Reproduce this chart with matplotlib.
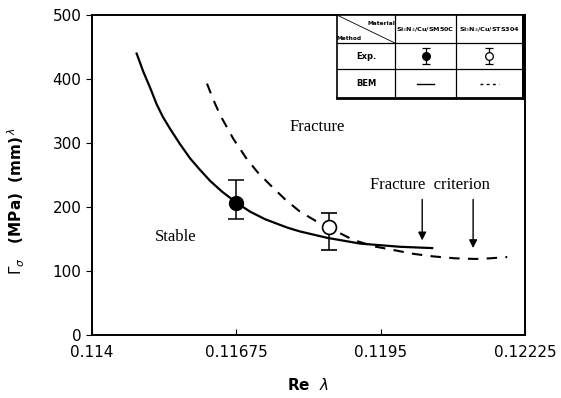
import matplotlib.pyplot as plt
import numpy as np

# BEM curves, Si3N4/Cu/SM50C (solid) and Si3N4/Cu/STS304 (dashed)
sm50c_x = [0.11485, 0.11498, 0.11511, 0.11523, 0.11535, 0.11549, 0.11568,
           0.11587, 0.11606, 0.11625, 0.11648, 0.11675, 0.11701, 0.11730,
           0.11772, 0.11796, 0.11848, 0.11911, 0.11987, 0.12048]
sm50c_y = [440, 411, 386, 361, 341, 322, 298, 276, 258, 241, 224, 207,
           193, 181, 168, 162, 152, 143, 138, 136]

sts304_x = [0.11619, 0.11631, 0.11644, 0.11669, 0.11695, 0.11716, 0.11739,
            0.11768, 0.11796, 0.11825, 0.11852, 0.11873, 0.11897, 0.11935,
            0.11974, 0.12012, 0.12050, 0.12092, 0.12130, 0.12158, 0.12191]
sts304_y = [393, 368, 344, 307, 275, 254, 235, 212, 193, 179, 168, 159,
            149, 139, 133, 127, 123, 120, 119, 120, 122]

# experiments
exp_x = [0.11675, 0.11852]
exp_y = [207, 169]
exp_lo = [25, 36]
exp_hi = [35, 22]

# fracture criterion
crit_x = [0.12029, 0.12126]
crit_y = [148, 136]

xticks = [0.114, 0.11675, 0.1195, 0.12225]
xticklabels = ['0.114', '0.11675', '0.1195', '0.12225']
yticks = [0, 100, 200, 300, 400, 500]

fig = plt.figure(figsize=(5.61, 3.98), dpi=100)
ax = fig.add_axes([0.164, 0.158, 0.772, 0.804])

ax.plot(sm50c_x, sm50c_y, color='black', lw=1.6)
ax.plot(sts304_x, sts304_y, color='black', lw=1.5, ls=(0, (5, 4)))

ax.errorbar(exp_x[0], exp_y[0], yerr=[[exp_lo[0]], [exp_hi[0]]], fmt='o',
            color='black', ms=10, mfc='black', capsize=6, elinewidth=1.1, capthick=1.1)
ax.errorbar(exp_x[1], exp_y[1], yerr=[[exp_lo[1]], [exp_hi[1]]], fmt='o',
            color='black', ms=10, mfc='white', mew=1.2, capsize=6, elinewidth=1.1, capthick=1.1)

for cx, cy in zip(crit_x, crit_y):
    ax.annotate('', xy=(cx, cy), xytext=(cx, 212),
                arrowprops=dict(arrowstyle='-|>', color='black', lw=1.0,
                                mutation_scale=12, shrinkA=0, shrinkB=0))

serif = dict(family='Liberation Serif', fontsize=12, va='center')
ax.text(0.11777, 325, 'Fracture', **serif)
ax.text(0.11520, 153, 'Stable', **serif)
ax.text(0.11930, 234, 'Fracture  criterion', **serif)

ax.set_xlim(0.114, 0.12225)
ax.set_ylim(0, 500)
ax.set_xticks(xticks)
ax.set_xticklabels(xticklabels)
ax.set_yticks(yticks)
ax.tick_params(axis='x', direction='in', length=4, labelsize=11, pad=7)
ax.tick_params(axis='y', direction='out', length=4, labelsize=11)
for s in ax.spines.values():
    s.set_linewidth(1.4)

ax.set_xlabel(r'Re  $\lambda$', fontsize=11, fontweight='bold', labelpad=12)
ax.set_ylabel(r'$\mathit{\Gamma}_\sigma$   (MPa)  (mm)$^{\,\lambda}$', fontsize=11,
              fontweight='bold')
ax.yaxis.set_label_coords(-0.15, 0.42)

# legend table in the upper right corner
tab = ax.inset_axes([0.566, 0.741, 0.429, 0.259])
tab.set_xlim(0, 186)
tab.set_ylim(0, 83)
tab.set_xticks([])
tab.set_yticks([])
for s in tab.spines.values():
    s.set_linewidth(1.2)
tab.spines['right'].set_linewidth(2.2)
tab.spines['bottom'].set_linewidth(2.0)
for cx in [58, 119]:
    tab.plot([cx, cx], [0, 83], color='black', lw=0.9)
for ry in [29, 55]:
    tab.plot([0, 186], [ry, ry], color='black', lw=0.9)
tab.plot([0, 58], [83, 55], color='black', lw=0.6)

small = dict(fontsize=4.6, fontweight='bold', ha='center', va='center')
tab.text(44, 75, 'Material', fontsize=4.2, fontweight='bold', ha='center', va='center')
tab.text(12, 60, 'Method', fontsize=4.2, fontweight='bold', ha='center', va='center')
tab.text(88.5, 69, r'Si$_3$N$_4$/Cu/SM50C', **small)
tab.text(152.5, 69, r'Si$_3$N$_4$/Cu/STS304', **small)
tab.text(29, 42, 'Exp.', fontsize=6, fontweight='bold', ha='center', va='center')
tab.text(29, 14.5, 'BEM', fontsize=6, fontweight='bold', ha='center', va='center')

tab.errorbar([88.5], [42], yerr=[[8]], fmt='o', color='black', ms=5.5,
             mfc='black', capsize=3, elinewidth=0.9, capthick=0.9)
tab.errorbar([152.5], [42], yerr=[[8]], fmt='o', color='black', ms=5.5,
             mfc='white', mew=0.9, capsize=3, elinewidth=0.9, capthick=0.9)
tab.plot([80, 97], [14.5, 14.5], color='black', lw=1.0)
tab.plot([143, 162], [14.5, 14.5], color='black', lw=1.0, ls=(0, (2, 2.5)))

fig.savefig('out.png', dpi=100)
